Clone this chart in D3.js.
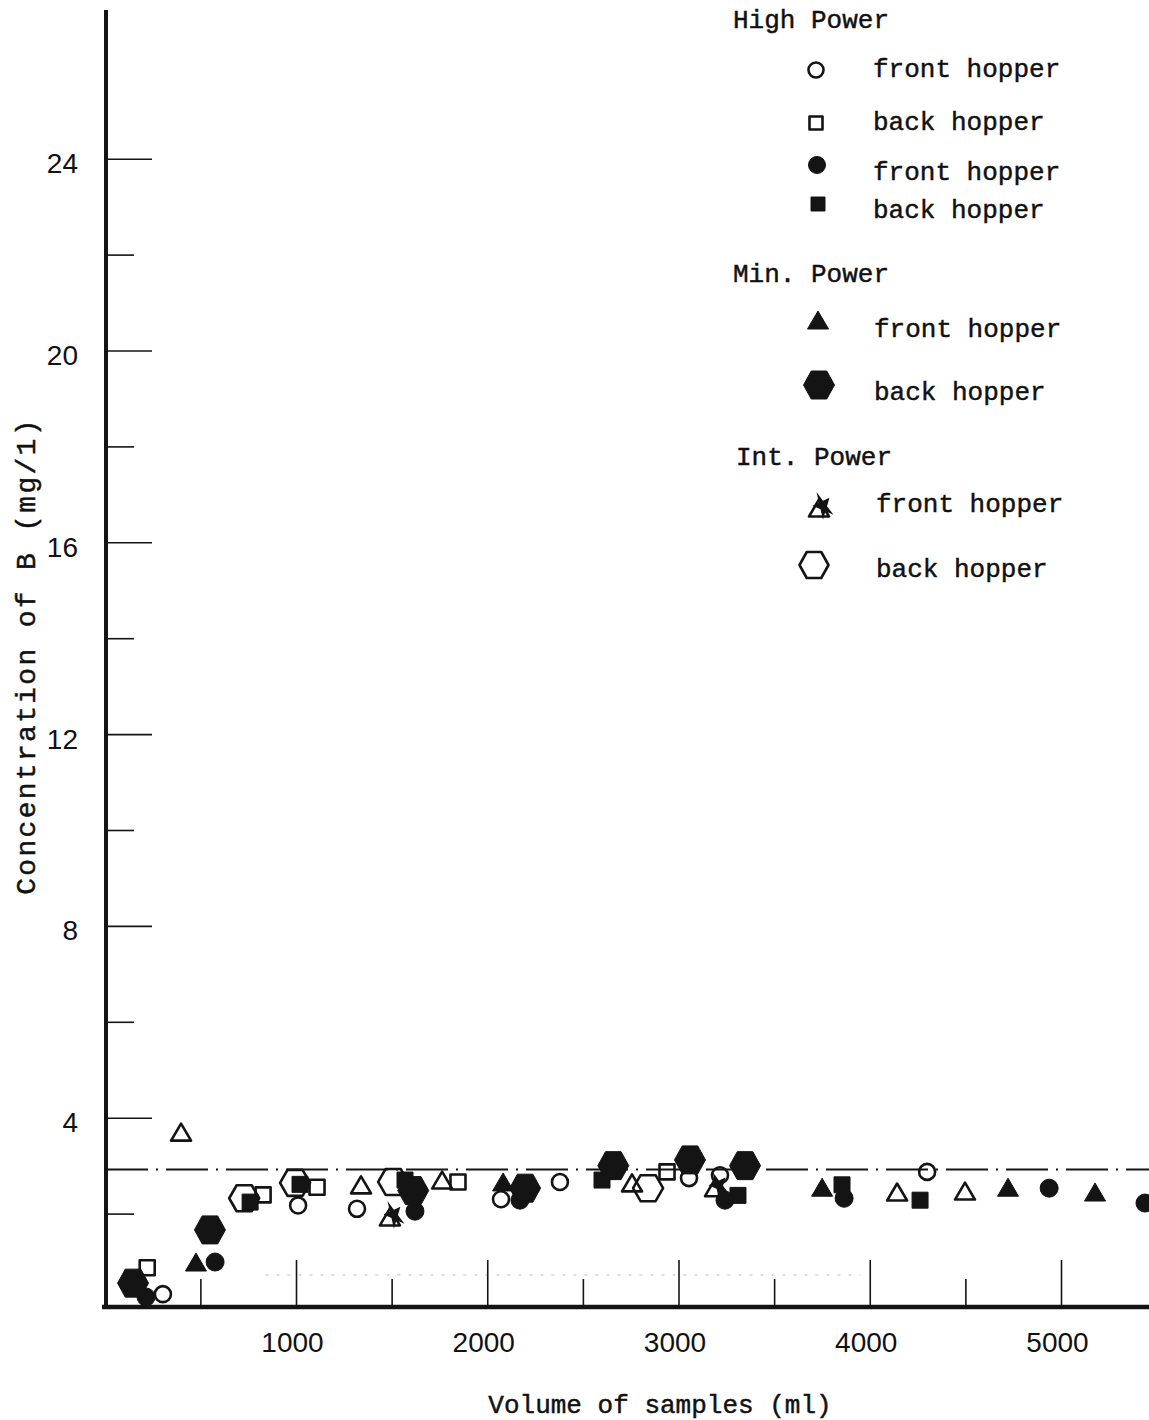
<!DOCTYPE html>
<html>
<head>
<meta charset="utf-8">
<script src="https://cdn.jsdelivr.net/npm/d3@7"></script>
<style>
  body { margin: 0; background: #fff; }
  svg { display: block; }
  .mono { font-family: "Liberation Mono", "Courier New", monospace; fill: #111; stroke: #111; stroke-width: 0.45px; }
  .num { font-family: "Liberation Sans", Arial, sans-serif; fill: #111; }
</style>
</head>
<body>
<svg id="chart" width="1149" height="1420"></svg>
<script>
// Axis ticks
const volumeTicksMajor = [1000, 2000, 3000, 4000, 5000];
const volumeTicksMinor = [500, 1500, 2500, 3500, 4500];
const concTicksMajor = [4, 8, 12, 16, 20, 24];
const concTicksMinor = [2, 6, 10, 14, 18, 22];
const referenceLevel = 2.92;

// [volume (ml), concentration of B (mg/l)]
const highFrontOpen   = [[304,0.32],[1011,2.17],[1319,2.10],[2072,2.30],[2380,2.66],[3055,2.74],[3217,2.80],[4300,2.87]];
const highBackOpen    = [[222,0.87],[828,2.39],[1110,2.55],[1847,2.66],[2940,2.87]];
const highFrontFilled = [[216,0.26],[577,0.99],[1622,2.05],[2171,2.28],[3243,2.28],[3866,2.32],[4938,2.53],[5439,2.22]];
const highBackFilled  = [[760,2.24],[1021,2.61],[1570,2.70],[2600,2.70],[3311,2.38],[3855,2.60],[4263,2.28]];
const minFront        = [[477,0.99],[2083,2.66],[3751,2.55],[4723,2.55],[5178,2.45]];
const minBack         = [[148,0.55],[550,1.66],[1613,2.48],[2198,2.53],[2659,3.00],[3060,3.12],[3348,3.00]];
const intFront        = [[399,3.70],[1340,2.60],[1764,2.70],[2757,2.64],[4143,2.45],[4498,2.47]];
const intFrontMarked  = [[1491,1.93],[3191,2.54]];
const intBack         = [[729,2.32],[995,2.64],[1508,2.66],[2841,2.53]];

const INK = "#141414";
const svg = d3.select("#chart");

const x = d3.scaleLinear().domain([0, 5000]).range([104.75, 1061]);
const y = d3.scaleLinear().domain([0, 24]).range([1309.5, 158.7]);

// ---- shape paths (centred on 0,0) ----
const shapes = {
  circle: s => { const p = d3.path(); p.arc(0, 0, s.r, 0, 2 * Math.PI); p.closePath(); return p.toString(); },
  square: s => `M${-s.w/2},${-s.w/2}h${s.w}v${s.w}h${-s.w}Z`,
  triangle: s => `M0,${-s.h/2}L${s.w/2},${s.h/2}L${-s.w/2},${s.h/2}Z`,
  hexagon: s => `M${-s.w/2},0L${-s.w/4},${-s.h/2}L${s.w/4},${-s.h/2}L${s.w/2},0L${s.w/4},${s.h/2}L${-s.w/4},${s.h/2}Z`,
  star: s => d3.symbol(d3.symbolStar, s.size)()
};

const series = [
  { data: intBack,         shape: "hexagon",  size: {w: 30, h: 26}, filled: false },
  { data: highBackOpen,    shape: "square",   size: {w: 15},        filled: false },
  { data: highFrontOpen,   shape: "circle",   size: {r: 8},         filled: false },
  { data: intFront,        shape: "triangle", size: {w: 20, h: 17}, filled: false },
  { data: intFrontMarked,  shape: "triangle", size: {w: 20, h: 17}, filled: false, star: true },
  { data: highBackFilled,  shape: "square",   size: {w: 16},        filled: true },
  { data: minFront,        shape: "triangle", size: {w: 21, h: 18}, filled: true },
  { data: highFrontFilled, shape: "circle",   size: {r: 9},         filled: true },
  { data: minBack,         shape: "hexagon",  size: {w: 31, h: 28}, filled: true }
];

function drawMarker(g, shape, size, filled, star) {
  g.append("path")
    .attr("d", shapes[shape](size))
    .attr("fill", filled ? INK : "none")
    .attr("stroke", INK)
    .attr("stroke-width", filled ? 1 : 2.6)
    .attr("stroke-linejoin", "round");
  if (star) {
    g.append("path")
      .attr("d", shapes.star({size: 170}))
      .attr("transform", "translate(4,-2) rotate(-25) scale(0.8,1.25)")
      .attr("fill", INK);
  }
}

// ---- faint scan trace near the baseline ----
svg.append("line")
  .attr("x1", x(840)).attr("x2", x(3950))
  .attr("y1", 1275).attr("y2", 1275)
  .attr("stroke", "#d4d4d4").attr("stroke-width", 1.6)
  .attr("stroke-dasharray", "3 8");

// ---- axes ----
const yMajor = svg.append("g").attr("transform", "translate(106,0)")
  .call(d3.axisRight(y).tickValues(concTicksMajor).tickSize(46).tickFormat(""));
const yMinor = svg.append("g").attr("transform", "translate(106,0)")
  .call(d3.axisRight(y).tickValues(concTicksMinor).tickSize(28).tickFormat(""));
const yLabels = svg.append("g").attr("transform", "translate(106,0)")
  .call(d3.axisLeft(y).tickValues(concTicksMajor).tickSize(0).tickPadding(28).tickFormat(d3.format("d")));

const xMajor = svg.append("g").attr("transform", "translate(0,1307)")
  .call(d3.axisTop(x).tickValues(volumeTicksMajor).tickSize(47).tickFormat(""));
const xMinor = svg.append("g").attr("transform", "translate(0,1307)")
  .call(d3.axisTop(x).tickValues(volumeTicksMinor).tickSize(28).tickFormat(""));
const xLabels = svg.append("g").attr("transform", "translate(0,1307)")
  .call(d3.axisBottom(x).tickValues(volumeTicksMajor).tickSize(0).tickPadding(25).tickFormat(d3.format("d")));

[yMajor, yMinor, yLabels, xMajor, xMinor, xLabels].forEach(g => g.select(".domain").remove());
[yMajor, yMinor, xMajor, xMinor].forEach(g => g.selectAll(".tick line").attr("stroke", INK).attr("stroke-width", 1.6));
[yLabels, xLabels].forEach(g => g.selectAll(".tick text")
  .attr("class", "num").attr("font-size", 28).attr("fill", INK));
yLabels.selectAll(".tick text").attr("dy", "0.5em");
xLabels.selectAll(".tick text").attr("dx", -4);

// reference level (dash-dot)
svg.append("line")
  .attr("x1", 106).attr("x2", 1149)
  .attr("y1", y(referenceLevel)).attr("y2", y(referenceLevel))
  .attr("stroke", INK).attr("stroke-width", 1.8)
  .attr("stroke-dasharray", "42 8 2 8");

// axis lines
svg.append("line").attr("x1", 106).attr("x2", 106).attr("y1", 10).attr("y2", 1309)
  .attr("stroke", INK).attr("stroke-width", 4);
svg.append("line").attr("x1", 102).attr("x2", 1149).attr("y1", 1307).attr("y2", 1307)
  .attr("stroke", INK).attr("stroke-width", 4.5);

// ---- data markers ----
const plot = svg.append("g");
series.forEach(s => {
  s.data.forEach(d => {
    const g = plot.append("g").attr("transform", `translate(${x(d[0])},${y(d[1])})`);
    drawMarker(g, s.shape, s.size, s.filled, s.star);
  });
});

// ---- axis titles ----
svg.append("text").attr("class", "mono")
  .attr("x", 660).attr("y", 1413).attr("text-anchor", "middle")
  .attr("font-size", 26).text("Volume of samples (ml)");
svg.append("text").attr("class", "mono")
  .attr("transform", "translate(35,656) rotate(-90)")
  .attr("text-anchor", "middle").attr("font-size", 28).attr("letter-spacing", 2.3)
  .text("Concentration of B (mg/1)");

// ---- legend ----
const legendHeads = [
  { text: "High Power", x: 733, y: 28 },
  { text: "Min. Power", x: 733, y: 282 },
  { text: "Int. Power", x: 736, y: 465 }
];
const legendRows = [
  { mx: 816, my: 70,  shape: "circle",   size: {r: 7.5},      filled: false, tx: 873, ty: 77,  text: "front hopper" },
  { mx: 816, my: 123, shape: "square",   size: {w: 13},       filled: false, tx: 873, ty: 130, text: "back hopper" },
  { mx: 817, my: 165, shape: "circle",   size: {r: 8.5},      filled: true,  tx: 873, ty: 180, text: "front hopper" },
  { mx: 818, my: 204, shape: "square",   size: {w: 14},       filled: true,  tx: 873, ty: 218, text: "back hopper" },
  { mx: 818, my: 320, shape: "triangle", size: {w: 21, h: 18}, filled: true, tx: 874, ty: 337, text: "front hopper" },
  { mx: 819, my: 385, shape: "hexagon",  size: {w: 31, h: 28}, filled: true, tx: 874, ty: 400, text: "back hopper" },
  { mx: 819, my: 508, shape: "triangle", size: {w: 20, h: 17}, filled: false, star: true, tx: 876, ty: 512, text: "front hopper" },
  { mx: 814, my: 565, shape: "hexagon",  size: {w: 29, h: 26}, filled: false, tx: 876, ty: 577, text: "back hopper" }
];
const legend = svg.append("g");
legendHeads.forEach(h => legend.append("text").attr("class", "mono")
  .attr("x", h.x).attr("y", h.y).attr("font-size", 26).text(h.text));
legendRows.forEach(r => {
  const g = legend.append("g").attr("transform", `translate(${r.mx},${r.my})`);
  drawMarker(g, r.shape, r.size, r.filled, r.star);
  legend.append("text").attr("class", "mono")
    .attr("x", r.tx).attr("y", r.ty).attr("font-size", 26).text(r.text);
});
</script>
</body>
</html>
